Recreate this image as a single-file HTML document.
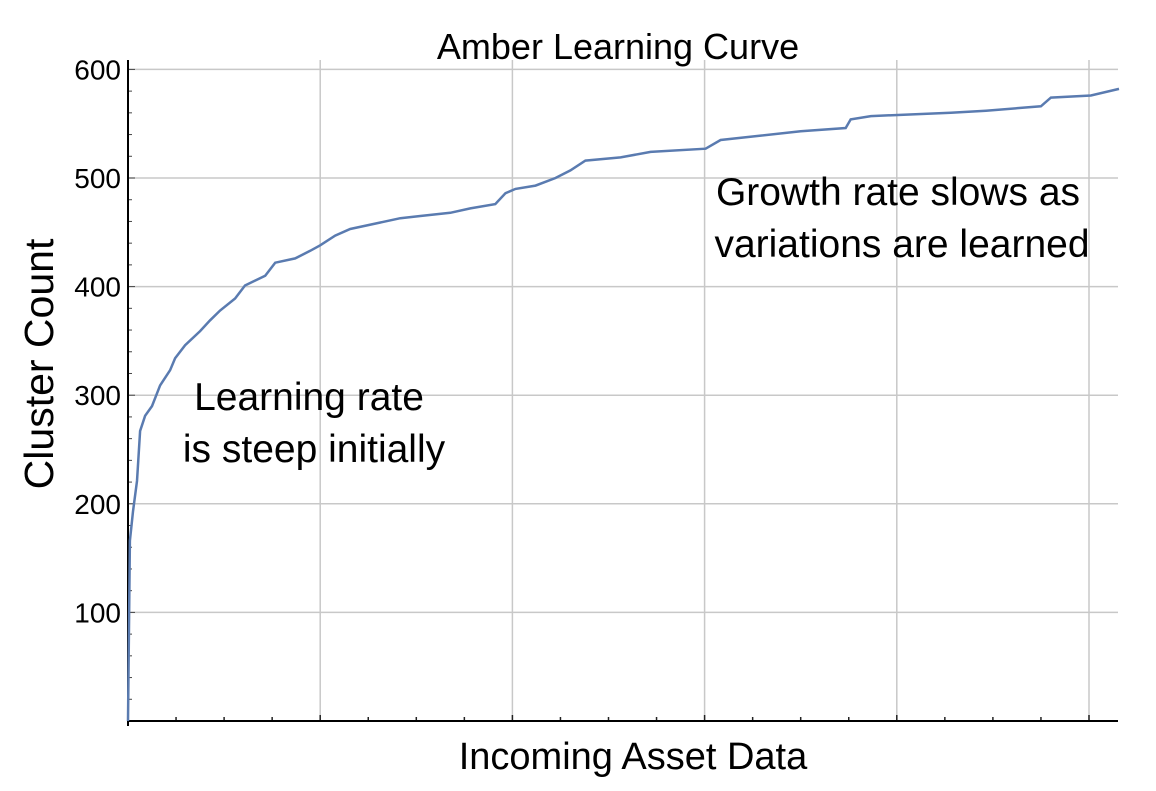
<!DOCTYPE html>
<html><head><meta charset="utf-8"><style>
body{margin:0;background:#fff;width:1156px;height:786px;overflow:hidden}
text{font-family:"Liberation Sans",sans-serif}
</style></head><body>
<svg id="chart" width="1156" height="786">
<text x="618" y="59" font-size="36" text-anchor="middle">Amber Learning Curve</text>
<g id="grid"></g><g id="axes"></g>
<path id="line" fill="none" stroke="#5a7bb0" stroke-width="2.5"/>
<text x="633" y="769" font-size="38" text-anchor="middle">Incoming Asset Data</text>
<text transform="translate(53,364) rotate(-90)" font-size="41" text-anchor="middle">Cluster Count</text>
<text x="309" y="410" font-size="39" text-anchor="middle">Learning rate</text>
<text x="314" y="462" font-size="39" text-anchor="middle">is steep initially</text>
<text x="898" y="205" font-size="39" text-anchor="middle">Growth rate slows as</text>
<text x="902" y="257" font-size="39" text-anchor="middle">variations are learned</text>
</svg>
<script>
const xs=[0,0.01,0.026,0.047,0.063,0.089,0.125,0.167,0.219,0.245,0.297,0.375,0.427,0.479,0.557,0.609,0.714,0.766,0.87,0.948,1.0,1.078,1.156,1.313,1.417,1.521,1.677,1.781,1.911,1.964,2.016,2.12,2.224,2.302,2.38,2.563,2.719,3.005,3.083,3.292,3.5,3.734,3.76,3.865,4.281,4.464,4.75,4.802,5.01,5.156];
const ys=[0,166,193,221,267,281,290,309,323,334,346,359,369,378,389,401,410,422,426,433,438,447,453,459,463,465,468,472,476,486,490,493,500,507,516,519,524,527,535,539,543,546,554,557,560,562,566,574,576,582];
const yTicks=[100,200,300,400,500,600];
const X=v=>128+v*192.2, Y=v=>721-v*1.086;
const ns="http://www.w3.org/2000/svg";
const grid=document.getElementById('grid'), axes=document.getElementById('axes');
function el(p,t,a){const e=document.createElementNS(ns,t);for(const k in a)e.setAttribute(k,a[k]);p.appendChild(e);return e;}
for(let i=1;i<=5;i++){const g=el(grid,'line',{x1:X(i),x2:X(i),y1:60,y2:721,stroke:'#c8c8c8','stroke-width':1.5});

}
yTicks.forEach(v=>{const g=el(grid,'line',{x1:128,x2:1118,y1:Y(v),y2:Y(v),stroke:'#c8c8c8','stroke-width':1.5});


const t=el(axes,'text',{x:121,y:Y(v)+10,'font-size':28,'text-anchor':'end'});t.textContent=v;

});
for(let v=20;v<=600;v+=20){el(axes,'line',{x1:128,x2:v%100?132:135,y1:Y(v),y2:Y(v),stroke:'#444','stroke-width':1});}
for(let i=0.25;i<5.2;i+=0.25){el(axes,'line',{x1:X(i),x2:X(i),y1:721,y2:Math.abs(i-Math.round(i))<0.01?715:717,stroke:'#222','stroke-width':1.5});}
const xa=el(axes,'line',{x1:128,x2:1118,y1:721,y2:721,stroke:'#000','stroke-width':2});


const ya=el(axes,'line',{x1:128,x2:128,y1:60,y2:726,stroke:'#000','stroke-width':2});


document.getElementById('line').setAttribute('d',xs.map((x,i)=>(i?'L':'M')+X(x).toFixed(1)+','+Y(ys[i]).toFixed(1)).join(''));
</script>
</body></html>
